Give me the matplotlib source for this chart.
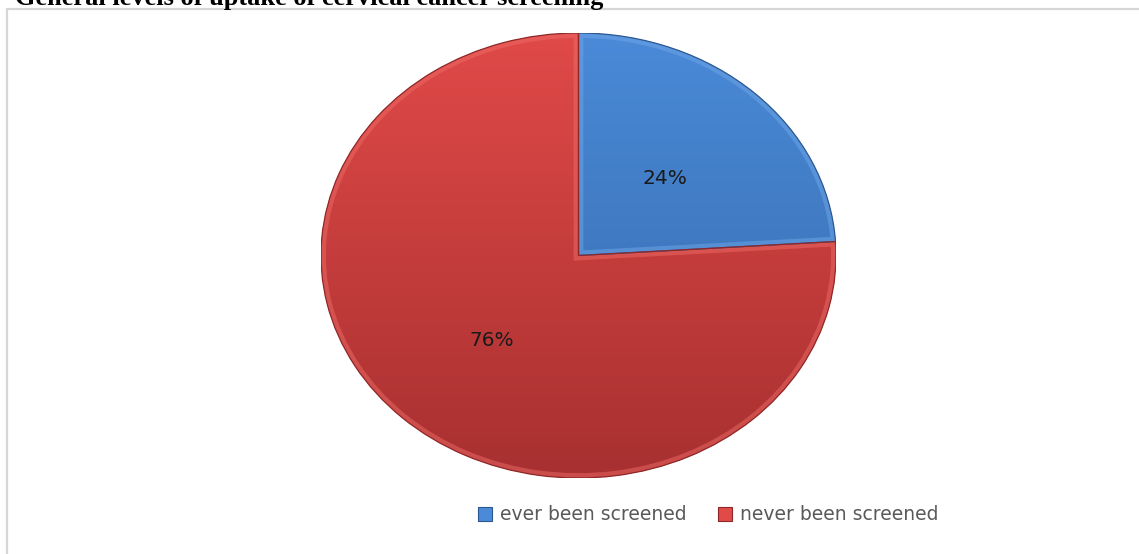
import numpy as np
import matplotlib
matplotlib.use("Agg")
import matplotlib.pyplot as plt
from matplotlib.patches import Rectangle, Patch, PathPatch
from matplotlib.colors import LinearSegmentedColormap

categories = ["ever been screened", "never been screened"]
shares = [24, 76]
colors_top = ["#4a8ad8", "#e04a48"]
colors_bottom = ["#3568a8", "#a83030"]
edge_light = ["#6fa6e8", "#ee6a66"]
edge_dark = ["#2c5890", "#8e2828"]

W, H = 1139, 554
fig = plt.figure(figsize=(W / 100, H / 100), dpi=100)
fig.patch.set_facecolor("white")

def px(x, y):
    return x / W, 1 - y / H

# chart frame
fig.patches.append(Rectangle(px(7, 560), (W + 20) / W, (560 - 9) / H,
                             transform=fig.transFigure, fill=False,
                             edgecolor="#d6d6d6", linewidth=1.6, zorder=0))

# caption above the frame
fig.text(*px(4, 5), "Figure 1 \u2013", ha="right", va="baseline",
         family="Liberation Serif", weight="bold", fontsize=19, color="black")
fig.text(*px(15, 5), "General levels of uptake of cervical cancer screening",
         ha="left", va="baseline", family="Liberation Serif", weight="bold",
         fontsize=19, color="black")

# pie axes (elliptical pie)
cx0, cx1, cy0, cy1 = 321, 836, 33, 478
ax = fig.add_axes([cx0 / W, 1 - cy1 / H, (cx1 - cx0) / W, (cy1 - cy0) / H])
wedges, _ = ax.pie(shares, startangle=90, counterclock=False,
                   colors=colors_top, radius=1.0)
ax.set_xlim(-1, 1)
ax.set_ylim(-1, 1)
ax.set_aspect("auto")
ax.axis("off")

grad = np.linspace(0, 1, 256).reshape(-1, 1)
for i, w in enumerate(wedges):
    cmap = LinearSegmentedColormap.from_list("g", [colors_top[i], colors_bottom[i]])
    im = ax.imshow(grad, extent=[-1, 1, -1, 1], origin="upper", cmap=cmap,
                   aspect="auto", zorder=2)
    im.set_clip_path(w)
    w.set_zorder(1)
    path = w.get_path().transformed(w.get_patch_transform())
    # bevel highlight along the slice edges
    hl = PathPatch(path, fill=False, edgecolor=edge_light[i],
                   linewidth=7, alpha=0.5, zorder=3)
    ax.add_patch(hl)
    hl.set_clip_path(w)
    rim = PathPatch(path, fill=False, edgecolor=edge_dark[i],
                    linewidth=0.9, zorder=4)
    ax.add_patch(rim)

# percentage labels
label_pos = [(665, 178), (492, 341)]
for (x, y), v in zip(label_pos, shares):
    fig.text(*px(x, y), f"{v}%", ha="center", va="center",
             fontsize=14.5, color="#1a1a1a", family="DejaVu Sans")

# legend
handles = [Patch(facecolor=colors_top[i], edgecolor=edge_dark[i], linewidth=0.8)
           for i in range(len(categories))]
leg = fig.legend(handles, categories, loc="center", bbox_to_anchor=px(708, 515),
                 ncol=2, frameon=False, fontsize=13.5, handlelength=0.75,
                 handleheight=0.75, handletextpad=0.4, columnspacing=1.7,
                 labelcolor="#595959")

fig.savefig("out.png", dpi=100)
